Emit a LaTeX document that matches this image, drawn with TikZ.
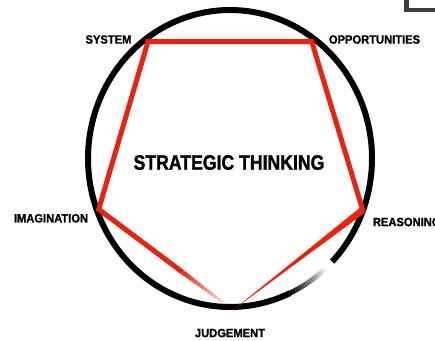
\documentclass[tikz,border=0pt]{standalone}
\usepackage{fontspec}
\usepackage{tikz}
\usetikzlibrary{calc}
\newfontfamily\lblfont[FakeStretch=0.93, FakeBold=1.2]{Liberation Sans Bold}
\newfontfamily\ttlfont[FakeStretch=0.84, FakeBold=1.4]{Liberation Sans Bold}
\definecolor{penred}{RGB}{232,36,16}
\definecolor{cornergrey}{RGB}{62,62,62}

\begin{document}
\begin{tikzpicture}[x=1pt,y=-1pt,
  vertexlbl/.style={inner sep=0pt, font=\lblfont\fontsize{12}{12}\selectfont},
  redline/.style={draw=penred, line width=5pt, line join=miter}]
  \useasboundingbox (0,0) rectangle (435,340);
  % Corner mark
  \draw[cornergrey, line width=4.5pt] (406.5,-2) -- (406.5,10) -- (437,10);
  % Circle
  \draw[line width=6pt] plot[domain=-44:295, samples=140, smooth]
    ({230+142*cos(\x)},{158.5-148.5*sin(\x)});
  \foreach \a in {0,...,16}{
    \pgfmathsetmacro\op{1-(\a+1)/18}
    \draw[line width=5pt, draw opacity=\op] plot[domain={295+\a}:{296.1+\a}, samples=3]
      ({230+142*cos(\x)},{158.5-148.5*sin(\x)});
  }
  % Pentagon corners
  \coordinate (sys) at (148,41.5);
  \coordinate (opp) at (311.7,41.5);
  \coordinate (rea) at (362.7,210);
  \coordinate (jud) at (233,310);
  \coordinate (ima) at (98.7,209.3);
  % Pentagon
  \draw[redline] ($(ima)!0.62!(jud)$) -- (ima) -- (sys) -- (opp) -- (rea) -- ($(rea)!6pt!(jud)$);
  \fill[penred] (jud) -- ($(rea)!3.5pt!90:(jud)$) -- ($(rea)!3.5pt!-90:(jud)$) -- cycle;
  \foreach \i in {0,...,13}{
    \pgfmathsetmacro\ta{0.62+0.025*\i}
    \pgfmathsetmacro\tb{0.647+0.025*\i}
    \pgfmathsetmacro\op{1-(\i+1)/15}
    \pgfmathsetmacro\lw{4.6-0.2*\i}
    \draw[penred, line width=\lw pt, draw opacity=\op] ($(ima)!\ta!(jud)$) -- ($(ima)!\tb!(jud)$);
  }
  % Labels
  \node[font=\ttlfont\fontsize{21}{21}\selectfont, inner sep=0pt] (title) at (229,162.5) {STRATEGIC THINKING};
  \node[vertexlbl] (sysl) at (108.5,39.5) {SYSTEM};
  \node[vertexlbl] (oppl) at (374.5,39.5) {OPPORTUNITIES};
  \node[vertexlbl, anchor=west] (real) at (372.7,222) {REASONING};
  \node[vertexlbl] (judl) at (230,333) {JUDGEMENT};
  \node[vertexlbl] (imal) at (51,218.3) {IMAGINATION};
\end{tikzpicture}
\end{document}
